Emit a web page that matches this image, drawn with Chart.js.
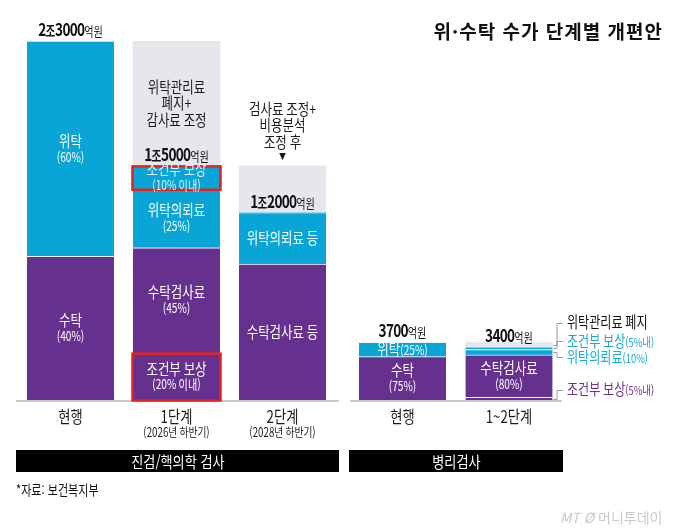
<!DOCTYPE html>
<html lang="ko">
<head>
<meta charset="utf-8">
<title>위·수탁 수가 단계별 개편안</title>
<script src="https://cdn.jsdelivr.net/npm/chart.js@4.4.1/dist/chart.umd.min.js"></script>
<style>
  html, body { margin: 0; padding: 0; background: #fff; }
  #wrap { position: relative; width: 680px; height: 529px; overflow: hidden;
          font-family: 'Noto Sans CJK KR', 'Noto Sans', sans-serif; color: #111; }
  #labChart { position: absolute; left: 0; top: 0; }
  #pathChart { position: absolute; left: 345px; top: 0; }
  .title { position: absolute; right: 17px; top: 18px; font-size: 19px; font-weight: 700;
           line-height: 26px; letter-spacing: 1px; white-space: nowrap; }
  .group { position: absolute; top: 450px; height: 22px; background: #000; color: #fff;
           text-align: center; font-size: 16px; line-height: 22px; white-space: nowrap; }
  .group span, .source span { display: inline-block; transform: scaleX(0.82); }
  .source { position: absolute; left: 16px; top: 480px; font-size: 13.5px; line-height: 18px;
            white-space: nowrap; }
  .source span { transform-origin: left center; }
  .mark { position: absolute; left: 560px; top: 507px; font-size: 14px; line-height: 20px;
          color: #c9c9c9; white-space: nowrap; }
</style>
</head>
<body>
<div id="wrap">
  <canvas id="labChart" width="345" height="529"></canvas>
  <canvas id="pathChart" width="335" height="529"></canvas>
  <div class="title">위·수탁 수가 단계별 개편안</div>
  <div class="group" style="left:16px;width:323px"><span>진검/핵의학 검사</span></div>
  <div class="group" style="left:349px;width:214px"><span>병리검사</span></div>
  <div class="source"><span>*자료: 보건복지부</span></div>
  <div class="mark"><i>MT</i> <i>Ø</i> 머니투데이</div>
</div>
<script>
// 진검/핵의학 검사 (단위: 억원)
const labStages = ['현행', '1단계', '2단계'];
const labStageNotes = ['', '(2026년 하반기)', '(2028년 하반기)'];
const labTotals = ['2조3000억원', '1조5000억원', '1조2000억원'];
const labCondSuTak = [0, 3000, 0];      // 조건부 보상 (수탁 쪽)
const labSuTak = [9200, 6750, 8700];
const labWiTak = [13800, 3750, 3300];
const labCondWiTak = [0, 1500, 0];      // 조건부 보상 (위탁 쪽)
const labCut = [0, 8000, 3000];         // 줄어든 몫 (회색)

const labCondSuTakText = [null, ['조건부 보상', '(20% 이내)'], null];
const labSuTakText = [['수탁', '(40%)'], ['수탁검사료', '(45%)'], ['수탁검사료 등']];
const labWiTakText = [['위탁', '(60%)'], ['위탁의뢰료', '(25%)'], ['위탁의뢰료 등']];
const labCondWiTakText = [null, ['조건부 보상', '(10% 이내)'], null];
const labCutText = [null, ['위탁관리료', '폐지+', '감사료 조정'], ['검사료 조정+', '비용분석', '조정 후', '▼']];
const labBoxed = [false, true, false];

// 병리검사 (단위: 억원)
const pathStages = ['현행', '1~2단계'];
const pathStageNotes = ['', ''];
const pathTotals = ['3700억원', '3400억원'];
const pathCondSuTak = [0, 170];
const pathSuTak = [2775, 2720];
const pathWiTak = [925, 340];
const pathCondWiTak = [0, 170];
const pathCut = [0, 300];

const pathSuTakText = [['수탁', '(75%)'], ['수탁검사료', '(80%)']];
const pathWiTakText = [['위탁(25%)'], null];
const pathSideText = {
  cut: [null, '위탁관리료 폐지'],
  condWiTak: [null, '조건부 보상(5%내)'],
  wiTak: [null, '위탁의뢰료(10%)'],
  condSuTak: [null, '조건부 보상(5%내)']
};

const Y_MAX = 23000;
const BLUE = '#08a5d6';
const PURPLE = '#66308f';
const GRAY = '#e6e6ec';
const RED = '#e5211c';
const FONT = "'Noto Sans CJK KR', 'Noto Sans', sans-serif";
const SX = 0.78; // 원본 글꼴이 좁아서 가로로 눌러 그림

// 옆 설명 글자의 세로 위치 (막대 조각 가운데 기준)
const SIDE_DY = { cut: -22, condWiTak: -7, wiTak: 5, condSuTak: -9 };
const SIDE_COLOR = { cut: '#111', condWiTak: '#1ba6d9', wiTak: '#1ba6d9', condSuTak: '#6a2f92' };

function lineRuns(line, size, subSize) {
  const m = line.match(/^([^(]*)(\(.*\))?$/);
  const runs = [];
  if (m[1]) runs.push({ t: m[1], size: size, weight: 400 });
  if (m[2]) runs.push({ t: m[2], size: subSize, weight: 400 });
  return runs;
}

function totalRuns(str) {
  return str.split(/(\d+)/).filter(Boolean).map(t => {
    if (/\d/.test(t)) return { t: t, size: 17.5, weight: 700, ls: -1 };
    if (t === '억원') return { t: t, size: 13, weight: 400 };
    return { t: t, size: 13.5, weight: 700 };
  });
}

function drawRuns(ctx, runs, x, cy, color, align) {
  ctx.textAlign = 'left';
  ctx.textBaseline = 'alphabetic';
  ctx.fillStyle = color;
  const widths = runs.map(r => {
    ctx.font = r.weight + ' ' + r.size + 'px ' + FONT;
    ctx.letterSpacing = (r.ls || 0) + 'px';
    return ctx.measureText(r.t).width * SX;
  });
  const total = widths.reduce((a, b) => a + b, 0);
  let left = align === 'left' ? x : x - total / 2;
  const maxSize = Math.max(...runs.map(r => r.size));
  const base = cy + maxSize * 0.37;
  runs.forEach((r, k) => {
    ctx.font = r.weight + ' ' + r.size + 'px ' + FONT;
    ctx.letterSpacing = (r.ls || 0) + 'px';
    ctx.save();
    ctx.translate(left, base);
    ctx.scale(SX, 1);
    ctx.fillText(r.t, 0, 0);
    ctx.restore();
    left += widths[k];
  });
  ctx.letterSpacing = '0px';
}

function drawLines(ctx, lines, x, cy, color, gap) {
  lines.forEach((line, k) => {
    const y = cy + (k - (lines.length - 1) / 2) * gap;
    drawRuns(ctx, lineRuns(line, 16, 13), x, y, color, 'center');
  });
}

const stackText = {
  id: 'stackText',
  beforeDatasetsDraw(chart, args, opts) {
    const ctx = chart.ctx;
    ctx.save();
    ctx.fillStyle = '#cbcbcb';
    ctx.fillRect(opts.lineFrom, chart.chartArea.bottom, opts.lineTo - opts.lineFrom, 2);
    ctx.restore();
  },
  afterDatasetsDraw(chart, args, opts) {
    const ctx = chart.ctx;
    ctx.save();
    const keyed = {};
    chart.data.datasets.forEach((ds, d) => { keyed[ds.key] = chart.getDatasetMeta(d).data; });

    chart.data.datasets.forEach((ds, d) => {
      const bars = chart.getDatasetMeta(d).data;
      bars.forEach((bar, i) => {
        const top = bar.y, bottom = bar.base;
        const mid = (top + bottom) / 2;
        // 빨간 테두리
        if (ds.boxed && ds.boxed[i]) {
          ctx.strokeStyle = RED;
          ctx.lineWidth = 2.5;
          ctx.strokeRect(bar.x - bar.width / 2 - 0.5, top + 0.5, bar.width + 1, bottom - top);
        }
        // 막대 안 글자
        const lines = ds.texts && ds.texts[i];
        if (lines) {
          if (ds.key === 'cut') {
            if (lines[lines.length - 1] === '▼') {
              const body = lines.slice(0, -1);
              const last = top - 24;
              body.forEach((line, k) => {
                drawRuns(ctx, lineRuns(line, 16, 13), bar.x, last - (body.length - 1 - k) * 16.5, '#1a1a1a', 'center');
              });
              drawRuns(ctx, [{ t: '▼', size: 9, weight: 400 }], bar.x, top - 9, '#1a1a1a', 'center');
            } else {
              drawLines(ctx, lines, bar.x, mid, '#1a1a1a', 16.5);
            }
          } else {
            drawLines(ctx, lines, bar.x, mid, ds.textColor || '#fff', 16);
          }
        }
        // 오른쪽 설명
        const side = ds.side && ds.side[i];
        if (side) {
          const right = bar.x + bar.width / 2;
          const ty = mid + SIDE_DY[ds.key];
          const vx = right + 4.5;
          ctx.strokeStyle = '#9a9a9a';
          ctx.lineWidth = 1;
          ctx.beginPath();
          ctx.moveTo(right + 1, Math.round(mid) + 0.5);
          ctx.lineTo(vx, Math.round(mid) + 0.5);
          ctx.lineTo(vx, Math.round(ty) + 0.5);
          ctx.lineTo(vx + 6, Math.round(ty) + 0.5);
          ctx.stroke();
          drawRuns(ctx, lineRuns(side, 15.5, 12), vx + 10, ty, SIDE_COLOR[ds.key], 'left');
        }
      });
    });

    // 합계 (회색 몫 아래 쌓인 높이 위)
    const tops = keyed.condWiTak;
    opts.totals.forEach((t, i) => {
      drawRuns(ctx, totalRuns(t), tops[i].x, tops[i].y - 11.5, '#111', 'center');
    });

    // 단계 이름
    const xs = chart.scales.x;
    chart.data.labels.forEach((name, i) => {
      const x = xs.getPixelForValue(i);
      drawRuns(ctx, [{ t: name, size: 17, weight: 400 }], x, 417, '#1a1a1a', 'center');
      if (opts.notes[i]) {
        drawRuns(ctx, [{ t: opts.notes[i], size: 12.5, weight: 400 }], x, 432, '#1a1a1a', 'center');
      }
    });
    ctx.restore();
  }
};

function segment(key, label, data, color, extra) {
  return Object.assign({
    key: key,
    label: label,
    data: data,
    backgroundColor: color,
    borderColor: 'rgba(255,255,255,0.85)',
    borderWidth: key === 'cut' ? 0 : { top: 1, right: 0, bottom: 0, left: 0 },
    barThickness: 87
  }, extra || {});
}

function makeChart(id, stages, notes, totals, datasets, pad, lineFrom, lineTo) {
  return new Chart(document.getElementById(id), {
    type: 'bar',
    data: { labels: stages, datasets: datasets },
    plugins: [stackText],
    options: {
      responsive: false,
      animation: false,
      events: [],
      layout: { padding: pad },
      scales: {
        x: { stacked: true, display: false },
        y: { stacked: true, display: false, min: 0, max: Y_MAX }
      },
      plugins: {
        legend: { display: false },
        tooltip: { enabled: false },
        stackText: { totals: totals, notes: notes, lineFrom: lineFrom, lineTo: lineTo }
      }
    }
  });
}

makeChart('labChart', labStages, labStageNotes, labTotals, [
  segment('condSuTak', '조건부 보상', labCondSuTak, PURPLE, { texts: labCondSuTakText, boxed: labBoxed }),
  segment('suTak', '수탁검사료', labSuTak, PURPLE, { texts: labSuTakText }),
  segment('wiTak', '위탁의뢰료', labWiTak, BLUE, { texts: labWiTakText }),
  segment('condWiTak', '조건부 보상', labCondWiTak, BLUE, { texts: labCondWiTakText, boxed: labBoxed, textColor: '#d9f3fb' }),
  segment('cut', '감축분', labCut, GRAY, { texts: labCutText })
], { left: 17.5, right: 9.5, top: 41, bottom: 129 }, 16, 339);

makeChart('pathChart', pathStages, pathStageNotes, pathTotals, [
  segment('condSuTak', '조건부 보상', pathCondSuTak, PURPLE, { side: pathSideText.condSuTak }),
  segment('suTak', '수탁검사료', pathSuTak, PURPLE, { texts: pathSuTakText }),
  segment('wiTak', '위탁의뢰료', pathWiTak, BLUE, { texts: pathWiTakText, side: pathSideText.wiTak }),
  segment('condWiTak', '조건부 보상', pathCondWiTak, BLUE, { side: pathSideText.condWiTak }),
  segment('cut', '위탁관리료 폐지', pathCut, GRAY, { side: pathSideText.cut })
], { left: 4.25, right: 117.75, top: 41, bottom: 129 }, 5, 217);
</script>
</body>
</html>
